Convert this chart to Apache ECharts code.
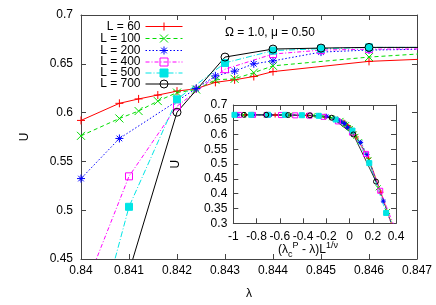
<!DOCTYPE html>
<html><head><meta charset="utf-8">
<script src="https://cdn.jsdelivr.net/npm/echarts@6/dist/echarts.min.js"></script>
<style>html,body{margin:0;padding:0;background:#fff}#c{width:436px;height:305px}</style>
</head><body><div id="c"></div>
<script>
// ---------- data ----------
const seriesNames = ['L = 60', 'L = 100', 'L = 200', 'L = 400', 'L = 500', 'L = 700'];

const lambdaL60  = [0.840, 0.8408, 0.8412, 0.8416, 0.842, 0.8424, 0.8428, 0.8432, 0.8436, 0.844, 0.846, 0.848];
const uL60       = [0.592, 0.6095, 0.614, 0.618, 0.622, 0.6245, 0.631, 0.6336, 0.637, 0.642, 0.6525, 0.6565];
const lambdaL100 = [0.840, 0.8408, 0.8412, 0.8416, 0.842, 0.8424, 0.8428, 0.8432, 0.8436, 0.844, 0.846, 0.848];
const uL100      = [0.5762, 0.594, 0.6016, 0.6118, 0.6205, 0.6236, 0.6336, 0.6346, 0.6409, 0.6479, 0.6569, 0.663];
const lambdaL200 = [0.838, 0.840, 0.8408, 0.8424, 0.8428, 0.8432, 0.8436, 0.844, 0.845, 0.846, 0.848];
const uL200      = [0.375, 0.5324, 0.5735, 0.6246, 0.6376, 0.6425, 0.650, 0.653, 0.662, 0.6641, 0.6655];
const lambdaL400 = [0.840, 0.841, 0.842, 0.843, 0.844, 0.845, 0.846, 0.848];
const uL400      = [0.41, 0.5347, 0.6065, 0.6445, 0.660, 0.664, 0.665, 0.6655];
const lambdaL500 = [0.840, 0.841, 0.842, 0.843, 0.844, 0.845, 0.846, 0.848];
const uL500      = [0.32, 0.5035, 0.6136, 0.6509, 0.6635, 0.6655, 0.6668, 0.6668];
const lambdaL700 = [0.841, 0.842, 0.843, 0.844, 0.845, 0.846, 0.848];
const uL700      = [0.437, 0.6004, 0.6569, 0.6651, 0.6661, 0.6668, 0.6668];

// inset: scaled variable (lambda_c^P - lambda) L^(1/nu) vs U
const insetXL60  = [-0.90, -0.64, -0.37, -0.21, -0.102, -0.049, -0.038, -0.028, -0.017, -0.006, 0.005, 0.015, 0.026, 0.037, 0.058, 0.164, 0.27, 0.376];
const insetUL60  = [0.6665, 0.666, 0.6645, 0.659, 0.6525, 0.642, 0.637, 0.6336, 0.631, 0.6245, 0.622, 0.618, 0.614, 0.6095, 0.592, 0.52, 0.405, 0.28];
const insetXL100 = [-0.915, -0.714, -0.514, -0.313, -0.233, -0.153, -0.073, -0.057, -0.041, -0.025, -0.009, 0.007, 0.023, 0.039, 0.055, 0.087, 0.167, 0.247, 0.327, 0.407];
const insetUL100 = [0.6665, 0.6665, 0.666, 0.6645, 0.662, 0.657, 0.6479, 0.6409, 0.6346, 0.6336, 0.6236, 0.6205, 0.6118, 0.6016, 0.594, 0.5762, 0.515, 0.42, 0.34, 0.25];
const insetXL200 = [-0.964, -0.824, -0.685, -0.546, -0.406, -0.267, -0.197, -0.127, -0.1, -0.072, -0.044, -0.016, 0.096, 0.151, 0.291, 0.43];
const insetUL200 = [0.6665, 0.6665, 0.666, 0.666, 0.6655, 0.6641, 0.662, 0.653, 0.650, 0.6425, 0.6376, 0.6246, 0.5735, 0.5324, 0.375, 0.22];
const insetXL400 = [-0.95, -0.83, -0.71, -0.59, -0.467, -0.345, -0.224, -0.10, 0.021, 0.142, 0.264, 0.385];
const insetUL400 = [0.6665, 0.6665, 0.6665, 0.666, 0.665, 0.664, 0.660, 0.6445, 0.6065, 0.5347, 0.41, 0.29];
const insetXL500 = [-0.99, -0.846, -0.701, -0.556, -0.41, -0.265, -0.12, 0.025, 0.17, 0.315];
const insetUL500 = [0.6668, 0.6668, 0.6668, 0.6668, 0.6655, 0.6635, 0.6509, 0.6136, 0.5035, 0.335];
const insetXL700 = [-0.908, -0.717, -0.527, -0.34, -0.153, 0.033, 0.228];
const insetUL700 = [0.6668, 0.6668, 0.6661, 0.6651, 0.6569, 0.6004, 0.441];

const annotation = 'Ω = 1.0, μ = 0.50';

// ---------- styles ----------
const FONT = 'Liberation Sans, Arial, sans-serif';
const SYM_PLUS  = 'path://M5,0L5,10M0,5L10,5';
const SYM_CROSS = 'path://M0,0L10,10M0,10L10,0';
const SYM_STAR  = 'path://M5,0L5,10M0,5L10,5M1.5,1.5L8.5,8.5M1.5,8.5L8.5,1.5';
const styles = [
  {color: '#ff0000', dash: 'solid',           symbol: SYM_PLUS,  fill: 'none'},
  {color: '#00dd00', dash: [4, 3],            symbol: SYM_CROSS, fill: 'none'},
  {color: '#0000ff', dash: [1.5, 2],          symbol: SYM_STAR,  fill: 'none'},
  {color: '#ff00ff', dash: [4, 2, 1, 2],      symbol: 'rect',    fill: 'rgba(0,0,0,0)'},
  {color: '#00e5e5', dash: [6, 2, 1, 2],      symbol: 'rect',    fill: '#00e5e5'},
  {color: '#000000', dash: 'solid',           symbol: 'circle',  fill: 'rgba(0,0,0,0)'}
];

const mainData = [[lambdaL60,uL60],[lambdaL100,uL100],[lambdaL200,uL200],[lambdaL400,uL400],[lambdaL500,uL500],[lambdaL700,uL700]];
const insetData = [[insetXL60,insetUL60],[insetXL100,insetUL100],[insetXL200,insetUL200],[insetXL400,insetUL400],[insetXL500,insetUL500],[insetXL700,insetUL700]];

function mkSeries(name, xs, ys, st, inset) {
  return {
    type: 'line', name: name,
    xAxisIndex: inset ? 2 : 0, yAxisIndex: inset ? 2 : 0,
    data: xs.map((x, i) => [x, ys[i]]),
    symbol: st.symbol,
    symbolSize: inset ? 5 : (st.symbol === 'rect' ? 7 : 8),
    showAllSymbol: true,
    clip: true,
    lineStyle: {color: st.color, width: inset ? 0.8 : 1, type: st.dash},
    itemStyle: {color: st.fill, borderColor: st.color, borderWidth: 1},
    emphasis: {disabled: true},
    silent: true
  };
}
const series = [];
mainData.forEach((d, i) => series.push(mkSeries(seriesNames[i], d[0], d[1], styles[i], false)));
insetData.forEach((d, i) => series.push(mkSeries('inset ' + seriesNames[i], d[0], d[1], styles[i], true)));

const fmt = v => String(parseFloat(v.toFixed(4)));
const AX = '#444';
function axis(opts) {
  return Object.assign({
    type: 'value', scale: true,
    axisLine: {show: true, onZero: false, lineStyle: {color: AX, width: 1}},
    axisTick: {show: true, inside: true, length: 5, lineStyle: {color: AX}},
    splitLine: {show: false},
    axisLabel: {show: true, color: '#000', fontFamily: FONT, fontSize: 12, formatter: fmt}
  }, opts);
}
function mirror(o) { o.axisLabel = {show: false}; o.name = ''; return o; }

const chart = echarts.init(document.getElementById('c'), null, {renderer: 'canvas'});
chart.setOption({
  animation: false,
  backgroundColor: '#fff',
  grid: [
    {left: 81, top: 15, width: 336, height: 251},
    {left: 233.3, top: 105, width: 162.7, height: 118.3, show: true, backgroundColor: '#fff', borderWidth: 0}
  ],
  xAxis: [
    axis({gridIndex: 0, min: 0.84, max: 0.847, interval: 0.001, position: 'bottom',
      name: 'λ', nameLocation: 'middle', nameGap: 29,
      nameTextStyle: {fontFamily: FONT, fontSize: 12, color: '#000'},
      axisLabel: {color: '#000', fontFamily: FONT, fontSize: 12, margin: 6, formatter: fmt}}),
    mirror(axis({gridIndex: 0, min: 0.84, max: 0.847, interval: 0.001, position: 'top'})),
    axis({gridIndex: 1, min: -1, max: 0.4, interval: 0.2, position: 'bottom',
      axisLabel: {color: '#000', fontFamily: FONT, fontSize: 12, margin: 7, formatter: fmt}}),
    mirror(axis({gridIndex: 1, min: -1, max: 0.4, interval: 0.2, position: 'top'}))
  ],
  yAxis: [
    axis({gridIndex: 0, min: 0.45, max: 0.7, interval: 0.05, position: 'left',
      name: 'U', nameLocation: 'middle', nameGap: 50,
      nameTextStyle: {fontFamily: FONT, fontSize: 12, color: '#000'},
      axisLabel: {color: '#000', fontFamily: FONT, fontSize: 12, margin: 8, formatter: fmt}}),
    mirror(axis({gridIndex: 0, min: 0.45, max: 0.7, interval: 0.05, position: 'right'})),
    axis({gridIndex: 1, min: 0.3, max: 0.7, interval: 0.05, position: 'left',
      name: 'U', nameLocation: 'middle', nameGap: 52,
      nameTextStyle: {fontFamily: FONT, fontSize: 12, color: '#000'},
      axisLabel: {color: '#000', fontFamily: FONT, fontSize: 12, margin: 6, formatter: fmt}}),
    mirror(axis({gridIndex: 1, min: 0.3, max: 0.7, interval: 0.05, position: 'right'}))
  ],
  legend: {
    data: seriesNames,
    orient: 'vertical', align: 'right',
    right: 253, top: 20, padding: 0,
    itemWidth: 37, itemHeight: 10, itemGap: -1,
    selectedMode: false,
    lineStyle: {width: 1},
    itemStyle: {borderWidth: 1},
    textStyle: {fontFamily: FONT, fontSize: 12, color: '#000', lineHeight: 12}
  },
  graphic: [
    {type: 'text', x: 270, y: 33, silent: true,
     style: {text: annotation, font: '12px ' + FONT, fill: '#000', align: 'center', verticalAlign: 'middle'}},
    {type: 'text', x: 308, y: 250, silent: true,
     style: {
       text: '{n|(λ}{sb|c}{sp|P}{n| - λ)L}{sp|1/ν}',
       align: 'center', verticalAlign: 'middle',
       rich: {
         n:  {fontFamily: FONT, fontSize: 12, lineHeight: 18, fill: '#000'},
         sb: {fontFamily: FONT, fontSize: 9, lineHeight: 11, verticalAlign: 'bottom', fill: '#000'},
         sp: {fontFamily: FONT, fontSize: 9, lineHeight: 11, verticalAlign: 'top', fill: '#000'}
       }
     }}
  ],
  series: series
});
</script>
</body></html>
